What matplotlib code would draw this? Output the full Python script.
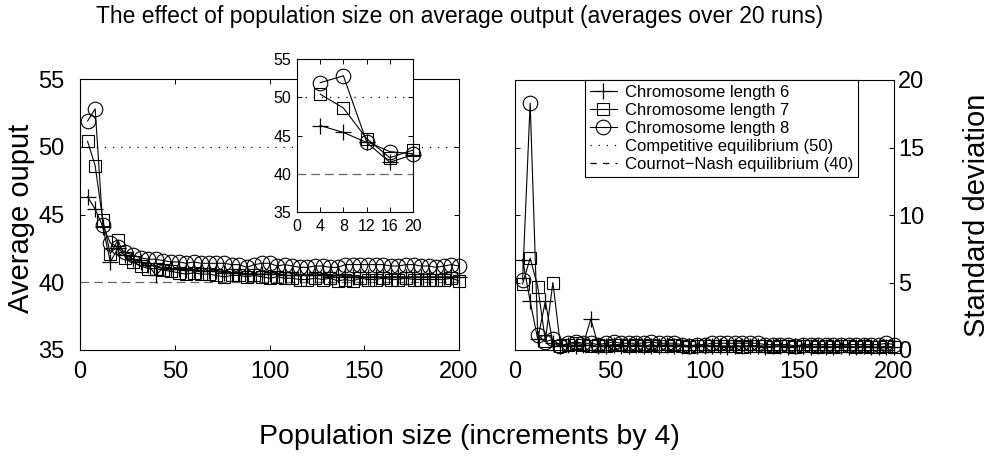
import numpy as np
import matplotlib
matplotlib.use("Agg")
import matplotlib.pyplot as plt
from matplotlib.lines import Line2D

plt.rcParams['font.family'] = ['Liberation Sans', 'DejaVu Sans']

pop_size = list(range(4, 201, 4))

# average output over 20 runs
avg_len6 = [46.3, 45.4, 44.1, 41.5, 42.5, 42.0, 41.7, 41.5, 41.3, 40.5,
            41.1, 41.0, 41.0, 40.9, 40.9, 40.8, 40.8, 40.8, 40.7, 40.7,
            40.7, 40.6, 40.6, 40.6, 40.6, 40.6, 40.5, 40.5, 40.5, 40.5,
            40.5, 40.5, 40.4, 40.5, 40.4, 40.4, 40.4, 40.4, 40.4, 40.4,
            40.4, 40.4, 40.4, 40.4, 40.4, 40.4, 40.4, 40.4, 40.4, 40.4]
avg_len7 = [50.4, 48.6, 44.6, 42.1, 43.1, 41.8, 41.5, 41.2, 41.0, 41.0,
            40.9, 40.8, 40.7, 40.6, 40.7, 40.6, 40.6, 40.5, 40.4, 40.5,
            40.5, 40.4, 40.5, 40.4, 40.3, 40.4, 40.3, 40.3, 40.2, 40.2,
            40.3, 40.2, 40.3, 40.1, 40.2, 40.1, 40.3, 40.2, 40.2, 40.3,
            40.2, 40.2, 40.3, 40.2, 40.2, 40.2, 40.2, 40.2, 40.3, 40.1]
avg_len8 = [51.9, 52.8, 44.2, 42.9, 42.6, 42.2, 42.0, 41.8, 41.7, 41.7,
            41.6, 41.5, 41.5, 41.4, 41.5, 41.4, 41.4, 41.4, 41.4, 41.3,
            41.3, 41.1, 41.3, 41.4, 41.4, 41.2, 41.3, 41.2, 41.1, 41.1,
            41.2, 41.2, 41.1, 41.1, 41.3, 41.3, 41.3, 41.3, 41.3, 41.3,
            41.2, 41.2, 41.3, 41.3, 41.2, 41.2, 41.1, 41.2, 41.3, 41.2]

# standard deviation over 20 runs
std_len6 = [6.7, 3.6, 0.8, 3.6, 0.5, 0.3, 0.4, 0.3, 0.4, 2.3,
            0.3, 0.3, 0.4, 0.3, 0.3, 0.4, 0.3, 0.3, 0.3, 0.4,
            0.3, 0.3, 0.3, 0.3, 0.3, 0.3, 0.3, 0.2, 0.3, 0.3,
            0.3, 0.3, 0.2, 0.3, 0.3, 0.2, 0.3, 0.3, 0.2, 0.3,
            0.2, 0.2, 0.3, 0.2, 0.2, 0.3, 0.2, 0.2, 0.2, 0.2]
std_len7 = [4.9, 6.8, 4.7, 0.7, 5.0, 0.3, 0.4, 0.5, 0.4, 0.3,
            0.4, 0.3, 0.4, 0.4, 0.3, 0.4, 0.3, 0.4, 0.3, 0.3,
            0.4, 0.3, 0.2, 0.3, 0.3, 0.3, 0.3, 0.3, 0.3, 0.2,
            0.3, 0.3, 0.3, 0.2, 0.3, 0.3, 0.2, 0.3, 0.3, 0.2,
            0.3, 0.2, 0.3, 0.3, 0.2, 0.3, 0.2, 0.2, 0.3, 0.2]
std_len8 = [5.2, 18.3, 1.1, 0.6, 0.8, 0.3, 0.5, 0.6, 0.5, 0.5,
            0.4, 0.5, 0.6, 0.5, 0.5, 0.5, 0.5, 0.6, 0.5, 0.5,
            0.5, 0.4, 0.3, 0.4, 0.4, 0.5, 0.5, 0.5, 0.5, 0.5,
            0.5, 0.5, 0.4, 0.4, 0.4, 0.4, 0.3, 0.4, 0.4, 0.4,
            0.4, 0.4, 0.4, 0.4, 0.4, 0.4, 0.4, 0.4, 0.5, 0.4]

competitive_eq = 50
cournot_eq = 40

labels = ["Chromosome length 6", "Chromosome length 7", "Chromosome length 8",
          "Competitive equilibrium (50)", "Cournot\u2212Nash equilibrium (40)"]
styles = [dict(marker="+", ms=11, mew=0.9),
          dict(marker="s", ms=9, mew=0.8),
          dict(marker="o", ms=10.5, mew=0.8)]
DOT = (0, (1, 5.5))
DASH = (0, (7, 4))
DASH_C = "0.4"

def matlab_axes(ax, fs, padx, pady):
    ax.tick_params(direction="in", top=True, right=True, length=3.5, width=0.7,
                   labelsize=fs)
    ax.tick_params(axis="x", pad=padx)
    ax.tick_params(axis="y", pad=pady)
    for sp in ax.spines.values():
        sp.set_linewidth(0.8)

fig = plt.figure(figsize=(9.93, 4.63), dpi=100)
W, H = 993, 463
def rect(x0, y0, x1, y1):
    return [x0 / W, 1 - y1 / H, (x1 - x0) / W, (y1 - y0) / H]

# ---- left: average output ----
ax1 = fig.add_axes(rect(80, 79, 459, 350))
ax1.axhline(competitive_eq, color="k", lw=0.9, ls=DOT)
ax1.axhline(cournot_eq, color=DASH_C, lw=0.9, ls=DASH)
for ys, st in zip([avg_len6, avg_len7, avg_len8], styles):
    ax1.plot(pop_size, ys, color="k", lw=0.8, mfc="none", mec="k", clip_on=False, **st)
ax1.set_xlim(0, 200); ax1.set_ylim(35, 55)
ax1.set_xticks([0, 50, 100, 150, 200]); ax1.set_yticks([35, 40, 45, 50, 55])
matlab_axes(ax1, 17, 8, 11)

# inset: first five population sizes
axi = fig.add_axes(rect(297, 59, 413, 212))
axi.axhline(competitive_eq, color="k", lw=0.9, ls=DOT)
axi.axhline(cournot_eq, color=DASH_C, lw=0.9, ls=DASH)
for ys, st in zip([avg_len6, avg_len7, avg_len8], styles):
    axi.plot(pop_size[:5], ys[:5], color="k", lw=0.8, mfc="none", mec="k",
             clip_on=False, **st)
axi.set_xlim(0, 20); axi.set_ylim(35, 55)
axi.set_xticks([0, 4, 8, 12, 16, 20]); axi.set_yticks([35, 40, 45, 50, 55])
matlab_axes(axi, 11.5, 5, 4)

# ---- right: standard deviation ----
ax2 = fig.add_axes(rect(515, 80, 894, 350))
for ys, st in zip([std_len6, std_len7, std_len8], styles):
    ax2.plot(pop_size, ys, color="k", lw=0.8, mfc="none", mec="k", clip_on=False, **st)
ax2.set_xlim(0, 200); ax2.set_ylim(0, 20)
ax2.set_xticks([0, 50, 100, 150, 200]); ax2.set_yticks([0, 5, 10, 15, 20])
matlab_axes(ax2, 17, 8, 3)
ax2.yaxis.tick_right()
ax2.tick_params(axis="y", left=True, right=True, direction="in")

handles = [Line2D([], [], color="k", lw=0.8, mfc="none", mec="k", **st) for st in styles]
handles += [Line2D([], [], color="k", lw=0.9, ls=DOT),
            Line2D([], [], color="k", lw=0.9, ls=(0, (5, 5)))]
leg = ax2.legend(handles, labels, loc="upper left", bbox_to_anchor=((585 - 515) / 379, 1.0),
                 borderaxespad=0, fontsize=12, labelspacing=0.18, handlelength=1.6,
                 handletextpad=0.5, borderpad=0.3, fancybox=False, framealpha=1,
                 edgecolor="k", numpoints=1)
leg.get_frame().set_linewidth(0.8)

fig.text(0.463, 1 - 17 / H, "The effect of population size on average output "
         "(averages over 20 runs)", ha="center", va="center", fontsize=16.5)
fig.text(0.473, 1 - 437 / H, "Population size (increments by 4)",
         ha="center", va="center", fontsize=20.5)
fig.text(21 / W, 1 - 218 / H, "Average ouput", rotation=90,
         ha="center", va="center", fontsize=21)
fig.text(977 / W, 1 - 215 / H, "Standard deviation", rotation=90,
         ha="center", va="center", fontsize=21)

fig.savefig("out.png", dpi=100)
